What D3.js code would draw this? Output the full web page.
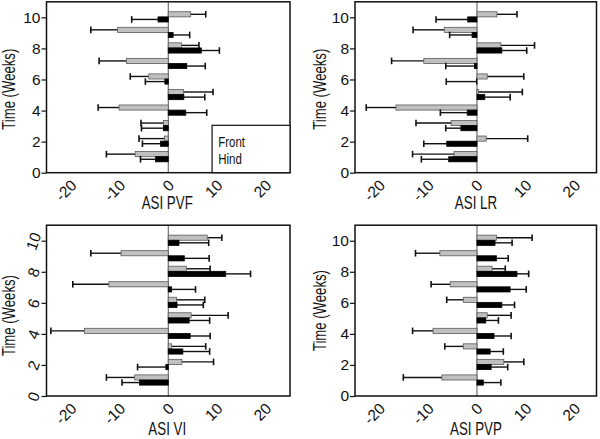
<!DOCTYPE html>
<html>
<head>
<meta charset="utf-8">
<script src="https://cdn.jsdelivr.net/npm/d3@7"></script>
<style>
  html, body { margin: 0; padding: 0; background: #fff; }
  svg { display: block; }
</style>
</head>
<body>
<svg id="chart" width="600" height="439"></svg>
<script>
// ---------------- data ----------------
const weeks = [1, 2, 3, 4, 5, 6, 7, 8, 9, 10];
const xTicks = [-20, -10, 0, 10, 20];
const yTicks = [0, 2, 4, 6, 8, 10];
const seriesNames = ["Front", "Hind"];
const panelTitles = ["ASI PVF", "ASI LR", "ASI VI", "ASI PVP"];
const yTitle = "Time (Weeks)";

const pvfFront   = [-6.8, -0.8, -1.0, -10.1, 3.1, -4.0, -8.6, 2.7, -10.4, 4.6];
const pvfFrontSD = [5.9, 5.2, 4.6, 4.3, 6.1, 3.8, 5.6, 3.6, 5.5, 3.1];
const pvfHind    = [-2.6, -1.6, -1.0, 3.6, 3.2, -0.7, 3.8, 6.8, 1.0, -2.1];
const pvfHindSD  = [3.1, 3.7, 4.5, 4.3, 4.3, 4.0, 3.8, 3.7, 3.4, 5.4];

const lrFront    = [-4.7, 1.9, -5.3, -16.6, 0.3, 2.1, -10.9, 4.9, -6.7, 4.1];
const lrFrontSD  = [8.5, 8.5, 7.2, 6.1, 9.0, 7.5, 6.6, 6.9, 6.4, 4.1];
const lrHind     = [-5.8, -6.2, -3.3, -2.0, 1.6, -0.1, -0.5, 5.1, -1.0, -1.9];
const lrHindSD   = [5.6, 4.7, 3.1, 5.5, 5.2, 6.2, 5.9, 5.1, 4.6, 6.5];

const viFront    = [-6.9, 2.8, 0.7, -17.2, 4.7, 1.7, -12.2, 3.7, -9.7, 8.0];
const viFrontSD  = [5.8, 6.5, 7.0, 6.9, 7.6, 5.8, 7.4, 4.9, 6.2, 3.0];
const viHind     = [-5.9, -0.5, 3.0, 4.5, 4.3, 1.8, 0.7, 11.8, 3.3, 2.2];
const viHindSD   = [3.6, 5.8, 5.5, 4.1, 4.2, 5.4, 4.9, 5.1, 5.1, 6.1];

const pvpFront   = [-7.2, 5.5, -2.8, -9.0, 2.1, -2.8, -5.5, 3.1, -7.6, 4.0];
const pvpFrontSD = [7.9, 4.1, 3.8, 4.2, 4.9, 3.4, 3.9, 2.7, 5.0, 7.3];
const pvpHind    = [1.3, 2.9, 2.7, 3.5, 1.8, 5.1, 6.8, 8.2, 4.0, 3.7];
const pvpHindSD  = [3.6, 3.4, 2.7, 3.5, 2.6, 2.6, 3.3, 2.4, 2.4, 3.5];

// ---------------- drawing ----------------
const SANS = "'Liberation Sans', Arial, sans-serif";
const svg = d3.select("#chart");
svg.append("rect").attr("width", 600).attr("height", 439).attr("fill", "#fff");

// condense a text like a narrow face
function narrow(sel, k) {
  sel.each(function () {
    const len = this.getComputedTextLength();
    d3.select(this).attr("textLength", len * k).attr("lengthAdjust", "spacingAndGlyphs");
  });
  return sel;
}

const seriesStyle = [
  { fill: "#c0c0c0", stroke: "#5a5a5a" },
  { fill: "#000000", stroke: "#000000" }
];

function drawPanel(p) {
  const x = d3.scaleLinear().domain(p.xDomain).range(p.xRange);
  const y = d3.scaleLinear().domain([0, 11]).range(p.yRange);
  const g = svg.append("g");
  const x0 = x(0);
  const barH = Math.abs(y(0.33) - y(0));
  const split = w => y(w + 0.03);

  const series = [
    { vals: p.front, sd: p.frontSD },
    { vals: p.hind, sd: p.hindSD }
  ];

  // zero line
  g.append("line")
    .attr("x1", x0).attr("x2", x0)
    .attr("y1", p.yRange[1]).attr("y2", p.yRange[0])
    .attr("stroke", "#555").attr("stroke-width", 1);

  series.forEach((s, si) => {
    const rows = weeks.map((w, i) => ({ w, v: s.vals[i], sd: s.sd[i] }));
    const top = d => si === 0 ? split(d.w) - barH : split(d.w);
    const cy = d => top(d) + barH / 2;
    const end = d => d.v + (d.v < 0 ? -d.sd : d.sd);
    g.selectAll(null).data(rows).enter().append("line")
      .attr("x1", d => x(d.v)).attr("x2", d => x(end(d)))
      .attr("y1", cy).attr("y2", cy)
      .attr("stroke", "#111").attr("stroke-width", 1.4);
    g.selectAll(null).data(rows).enter().append("line")
      .attr("x1", d => x(end(d))).attr("x2", d => x(end(d)))
      .attr("y1", d => cy(d) - 3.3).attr("y2", d => cy(d) + 3.3)
      .attr("stroke", "#111").attr("stroke-width", 1.6);
    g.selectAll(null).data(rows).enter().append("rect")
      .attr("x", d => Math.min(x(d.v), x0))
      .attr("width", d => Math.abs(x(d.v) - x0))
      .attr("y", top)
      .attr("height", barH)
      .attr("fill", seriesStyle[si].fill)
      .attr("stroke", seriesStyle[si].stroke)
      .attr("stroke-width", 0.8);
  });

  // frame
  g.append("rect")
    .attr("x", p.xRange[0]).attr("y", p.yRange[1])
    .attr("width", p.xRange[1] - p.xRange[0])
    .attr("height", p.yRange[0] - p.yRange[1])
    .attr("fill", "none").attr("stroke", "#111").attr("stroke-width", 1.5);

  // y axis
  const ya = g.append("g")
    .attr("transform", `translate(${p.xRange[0]},0)`)
    .call(d3.axisLeft(y).tickValues(yTicks).tickSize(5).tickPadding(1).tickFormat(d => String(d)));
  ya.select(".domain").remove();
  ya.selectAll(".tick line").attr("stroke", "#111").attr("stroke-width", 1.2);
  ya.selectAll(".tick text")
    .attr("font-family", SANS).attr("font-size", 15.5).attr("fill", "#111");
  if (p.oddY) {
    ya.selectAll(".tick text")
      .attr("x", -10).attr("dy", "0.35em").attr("text-anchor", "middle")
      .attr("transform", "translate(-3,0) rotate(-70,-10,0)");
  }

  // x axis
  const xa = g.append("g")
    .attr("transform", `translate(0,${p.yRange[0]})`)
    .call(d3.axisBottom(x).tickValues(xTicks).tickSize(0).tickFormat(d => String(d)));
  xa.select(".domain").remove();
  xa.selectAll(".tick text")
    .attr("font-family", SANS).attr("font-size", 15.5).attr("fill", "#111")
    .attr("x", 0).attr("y", 0).attr("dy", "0.35em")
    .attr("text-anchor", "end")
    .attr("transform", "translate(2.4,9.8) rotate(-45)");

  // titles
  const t = g.append("text")
    .attr("x", x0 - 1).attr("y", p.titleY)
    .attr("text-anchor", "middle")
    .attr("font-family", SANS).attr("font-size", 18).attr("fill", "#111")
    .text(p.title);
  narrow(t, 0.74);
  const ymid = (p.yRange[0] + p.yRange[1]) / 2 + p.yTitleShift;
  const yt = g.append("text")
    .attr("transform", `translate(${p.yTitleX},${ymid}) rotate(-90)`)
    .attr("text-anchor", "middle")
    .attr("font-family", SANS).attr("font-size", 18).attr("fill", "#111")
    .text(yTitle);
  narrow(yt, 0.73);

  return { x, y, g };
}

const p1 = drawPanel({
  title: panelTitles[0], front: pvfFront, frontSD: pvfFrontSD, hind: pvfHind, hindSD: pvfHindSD,
  xDomain: [-25, 25], xRange: [46.5, 290], yRange: [172.7, 1.8],
  titleY: 208.5, yTitleX: 14.5, yTitleShift: 2
});
drawPanel({
  title: panelTitles[1], front: lrFront, frontSD: lrFrontSD, hind: lrHind, hindSD: lrHindSD,
  xDomain: [-25, 24.5], xRange: [355, 596.5], yRange: [172.7, 1.8],
  titleY: 208.5, yTitleX: 325.5, yTitleShift: 2
});
drawPanel({
  title: panelTitles[2], front: viFront, frontSD: viFrontSD, hind: viHind, hindSD: viHindSD,
  xDomain: [-25, 25], xRange: [46.5, 290], yRange: [396, 225.2],
  titleY: 434.5, yTitleX: 14.5, yTitleShift: 5, oddY: true
});
drawPanel({
  title: panelTitles[3], front: pvpFront, frontSD: pvpFrontSD, hind: pvpHind, hindSD: pvpHindSD,
  xDomain: [-25, 24.5], xRange: [355, 596.5], yRange: [396, 225.2],
  titleY: 434.5, yTitleX: 325.5, yTitleShift: 0
});

// legend (panel 1)
const lg = p1.g.append("g");
lg.append("rect")
  .attr("x", p1.x(9)).attr("y", p1.y(3.05))
  .attr("width", p1.x(25) - p1.x(9)).attr("height", p1.y(0) - p1.y(3.05))
  .attr("fill", "#fff").attr("stroke", "#111").attr("stroke-width", 1.2);
const lt = lg.selectAll(null).data(seriesNames).enter().append("text")
  .attr("x", p1.x(10.25))
  .attr("y", (d, i) => p1.y(1.65) + i * 17)
  .attr("font-family", SANS).attr("font-size", 14).attr("fill", "#111")
  .text(d => d);
narrow(lt, 0.82);
</script>
</body>
</html>
